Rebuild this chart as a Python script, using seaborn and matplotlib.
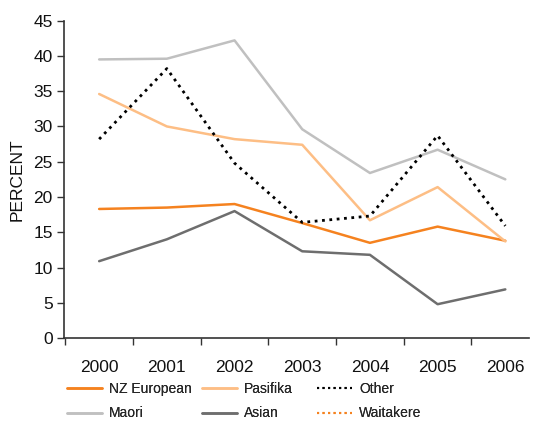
import numpy as np
import pandas as pd
import matplotlib
matplotlib.use("Agg")
import matplotlib.pyplot as plt
from matplotlib.lines import Line2D
import seaborn as sns

years = ["2000", "2001", "2002", "2003", "2004", "2005", "2006"]
nz_european = [18.3, 18.5, 19.0, 16.3, 13.5, 15.8, 13.8]
maori = [39.5, 39.6, 42.2, 29.6, 23.4, 26.7, 22.5]
pasifika = [34.6, 30.0, 28.2, 27.4, 16.7, 21.4, 13.7]
asian = [10.9, 14.0, 18.0, 12.3, 11.8, 4.8, 6.9]
other = [28.2, 38.2, 24.8, 16.4, 17.3, 28.7, 15.9]
waitakere = [np.nan] * 7

series = {
    "NZ European": (nz_european, "#F5821F", "-"),
    "Maori": (maori, "#C0C0C0", "-"),
    "Pasifika": (pasifika, "#FDBE85", "-"),
    "Asian": (asian, "#6E6E6E", "-"),
    "Other": (other, "#000000", ":"),
    "Waitakere": (waitakere, "#F5821F", ":"),
}

sns.set_theme(style="white")
plt.rcParams["font.family"] = ["Liberation Sans", "DejaVu Sans"]

fig = plt.figure(figsize=(5.33, 4.21), dpi=100)
ax = fig.add_axes([0.12, 0.197, 0.8725, 0.754])

pos = np.arange(len(years))
handles = []
for name, (vals, color, ls) in series.items():
    df = pd.DataFrame({"x": pos, "y": vals})
    lw = 1.8 if ls == "-" else 2.0
    if not df["y"].isna().all():
        sns.lineplot(data=df, x="x", y="y", ax=ax, color=color,
                     linestyle=ls, linewidth=lw, legend=False)
    handles.append(Line2D([], [], color=color, linestyle=ls,
                          linewidth=lw if ls == "-" else 1.5, label=name))

ax.set_xlim(-0.52, 6.35)
ax.set_ylim(0, 45)
ax.set_yticks(np.arange(0, 46, 5))
ax.set_xticks(pos)
ax.set_xticklabels(years)
ax.set_xticks(np.arange(-0.5, 6.0, 1.0), minor=True)
ax.tick_params(axis="x", which="major", length=0, pad=16, labelsize=12.5,
               colors="#111111")
ax.tick_params(axis="x", which="minor", length=5, width=1, color="#333333",
               direction="out", bottom=True)
ax.tick_params(axis="y", length=5, width=1, color="#333333", direction="out",
               left=True, labelsize=12.5, labelcolor="#111111", pad=3)
ax.set_xlabel("")
ax.set_ylabel("PERCENT", fontsize=12.5, color="#111111", labelpad=6)

for side in ["top", "right"]:
    ax.spines[side].set_visible(False)
for side in ["left", "bottom"]:
    ax.spines[side].set_color("#333333")
    ax.spines[side].set_linewidth(1.2)

# legend laid out as three columns of two entries each
col_x = [67 / 533, 202 / 533, 317 / 533]
for i, x0 in enumerate(col_x):
    leg = fig.legend(handles=handles[2 * i:2 * i + 2], loc="upper left",
                     bbox_to_anchor=(x0, 1 - 382 / 421), frameon=False,
                     fontsize=10, handlelength=2.5, handletextpad=0.55,
                     labelspacing=0.75, borderpad=0, borderaxespad=0)
    fig.add_artist(leg)

fig.savefig("out.png", dpi=100)
